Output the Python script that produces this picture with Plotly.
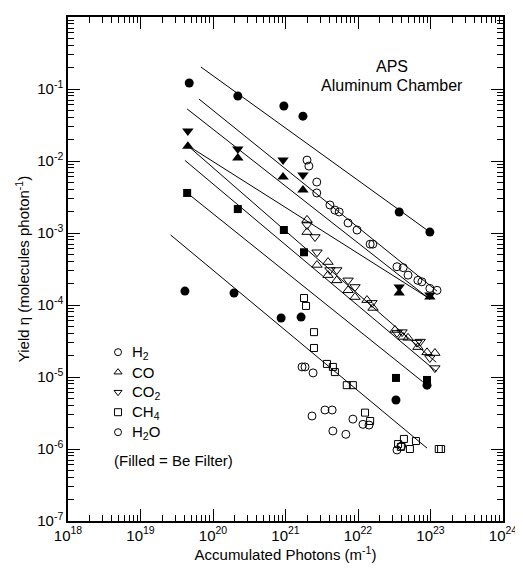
import plotly.graph_objects as go

# ---------------- data ----------------
# Filled symbols (Be filter)
h2_f_x = [4.7e19, 2.2e20, 9.5e20, 1.74e21, 3.7e22, 9.8e22]
h2_f_y = [1.21e-1, 8.0e-2, 5.8e-2, 4.2e-2, 1.96e-3, 1.03e-3]

co_f_x = [4.5e19, 2.2e20, 9.25e20, 1.74e21, 3.7e22, 9.8e22]
co_f_y = [1.6e-2, 1.1e-2, 6.0e-3, 3.96e-3, 1.47e-4, 1.29e-4]

co2_f_x = [4.5e19, 2.2e20, 9.25e20, 1.74e21, 3.7e22, 9.8e22]
co2_f_y = [2.6e-2, 1.47e-2, 1.03e-2, 6.4e-3, 1.78e-4, 1.38e-4]

ch4_f_x = [4.4e19, 2.2e20, 9.5e20, 1.8e21, 3.34e22, 8.95e22]
ch4_f_y = [3.6e-3, 2.15e-3, 1.1e-3, 5.4e-4, 9.7e-6, 9.1e-6]

h2o_f_x = [4.1e19, 1.95e20, 8.7e20, 1.64e21, 3.34e22, 8.95e22]
h2o_f_y = [1.56e-4, 1.47e-4, 6.6e-5, 6.8e-5, 4.8e-6, 7.7e-6]

# Open symbols
h2_o_x = [1.98e21, 2.1e21, 2.7e21, 2.7e21, 4.1e21, 4.8e21, 5.5e21, 7.3e21, 9.7e21,
          1.47e22, 1.6e22, 3.45e22, 4.2e22, 4.9e22, 6.7e22, 7.6e22, 9.8e22, 1.23e23]
h2_o_y = [1.03e-2, 8.5e-3, 5.1e-3, 3.6e-3, 2.45e-3, 2.08e-3, 1.96e-3, 1.38e-3, 1.1e-3,
          7.0e-4, 7.0e-4, 3.4e-4, 3.3e-4, 2.6e-4, 2.2e-4, 2.1e-4, 1.7e-4, 1.6e-4]

co_o_x = [1.98e21, 1.98e21, 2.72e21, 3.86e21, 3.86e21, 5.1e21, 7.3e21, 9.1e21,
          1.33e22, 1.61e22, 3.24e22, 4.18e22, 4.9e22, 6.7e22, 8.95e22, 1.15e23]
co_o_y = [1.52e-3, 1.03e-3, 3.6e-4, 3.95e-4, 2.6e-4, 2.2e-4, 1.6e-4, 1.29e-4,
          1.17e-4, 9.1e-5, 4.5e-5, 3.6e-5, 3.5e-5, 2.6e-5, 2.2e-5, 2.15e-5]

co2_o_x = [1.98e21, 2.55e21, 2.72e21, 4.1e21, 5.1e21, 7.3e21, 9.1e21, 1.56e22,
           3.45e22, 4.05e22, 6.5e22, 7.2e22, 9.8e22, 1.15e23]
co2_o_y = [1.29e-3, 8.8e-4, 5.4e-4, 3.06e-4, 3.06e-4, 2.2e-4, 1.78e-4, 1.07e-4,
           4.1e-5, 4.2e-5, 3.0e-5, 3.1e-5, 1.84e-5, 1.33e-5]

ch4_o_x = [1.8e21, 1.92e21, 2.47e21, 2.47e21, 3.73e21, 4.5e21, 4.8e21, 7.0e21, 8.5e21,
           1.25e22, 1.47e22, 3.57e22, 4.3e22, 3.9e22, 5.2e22, 6.3e22, 1.3e23, 1.4e23]
ch4_o_y = [1.25e-4, 9.7e-5, 4.2e-5, 2.53e-5, 1.52e-5, 1.38e-5, 1.17e-5, 7.7e-6, 7.7e-6,
           3.2e-6, 2.45e-6, 1.17e-6, 1.38e-6, 1.07e-6, 1.0e-6, 1.29e-6, 1.0e-6, 1.0e-6]

h2o_o_x = [1.69e21, 1.86e21, 2.4e21, 2.32e21, 3.5e21, 4.4e21, 4.5e21, 6.8e21, 8.5e21,
           1.17e22, 1.42e22, 3.45e22, 4.0e22]
h2o_o_y = [1.38e-5, 1.38e-5, 1.14e-5, 2.87e-6, 3.48e-6, 3.48e-6, 1.78e-6, 1.6e-6, 2.6e-6,
           2.2e-6, 2.15e-6, 9.7e-7, 1.1e-6]

# Fit lines (start, end) in data units
fit_lines = [
    ([6.8e19, 9.8e22], [2.02e-1, 1.03e-3]),
    ([6.4e19, 1.23e23], [7.26e-2, 1.56e-4]),
    ([4.4e19, 8.95e22], [5.28e-2, 1.29e-4]),
    ([4.4e19, 8.95e22], [1.66e-2, 1.29e-4]),
    ([4.4e19, 1.2e23], [1.66e-2, 1.6e-5]),
    ([4.1e19, 1.2e23], [1.02e-2, 1.2e-5]),
    ([4.4e19, 7.8e22], [3.6e-3, 8.6e-6]),
    ([2.6e19, 8.95e22], [9.4e-4, 1.03e-6]),
]

x_tickvals = [1e18, 1e19, 1e20, 1e21, 1e22, 1e23, 1e24]
x_ticktext = ["10<sup>18</sup>", "10<sup>19</sup>", "10<sup>20</sup>", "10<sup>21</sup>",
              "10<sup>22</sup>", "10<sup>23</sup>", "10<sup>24</sup>"]
y_tickvals = [1e-7, 1e-6, 1e-5, 1e-4, 1e-3, 1e-2, 1e-1, 1e0]
y_ticktext = ["10<sup>-7</sup>", "10<sup>-6</sup>", "10<sup>-5</sup>", "10<sup>-4</sup>",
              "10<sup>-3</sup>", "10<sup>-2</sup>", "10<sup>-1</sup>", "10<sup>-0</sup>"]

legend_names = ["H<sub>2</sub>", "CO", "CO<sub>2</sub>", "CH<sub>4</sub>", "H<sub>2</sub>O"]
legend_symbols = ["circle-open", "triangle-up-open", "triangle-down-open",
                  "square-open", "circle-open"]

# ---------------- figure ----------------
FONT = "Liberation Sans Narrow, Liberation Sans, Arial"
fig = go.Figure()

for xs, ys in fit_lines:
    fig.add_trace(go.Scatter(x=xs, y=ys, mode="lines", line=dict(color="black", width=1),
                             showlegend=False, hoverinfo="skip"))

open_sets = [
    (h2_o_x, h2_o_y, "circle-open", 8),
    (co_o_x, co_o_y, "triangle-up-open", 9),
    (co2_o_x, co2_o_y, "triangle-down-open", 9),
    (ch4_o_x, ch4_o_y, "square-open", 7),
    (h2o_o_x, h2o_o_y, "circle-open", 8),
]
for (xs, ys, sym, sz), name in zip(open_sets, legend_names):
    fig.add_trace(go.Scatter(x=xs, y=ys, mode="markers", name=name, showlegend=False,
                             marker=dict(symbol=sym, size=sz, color="black",
                                         line=dict(color="black", width=1))))

filled_sets = [
    (h2_f_x, h2_f_y, "circle", 9),
    (co_f_x, co_f_y, "triangle-up", 10),
    (co2_f_x, co2_f_y, "triangle-down", 10),
    (ch4_f_x, ch4_f_y, "square", 8),
    (h2o_f_x, h2o_f_y, "circle", 9),
]
for xs, ys, sym, sz in filled_sets:
    fig.add_trace(go.Scatter(x=xs, y=ys, mode="markers", showlegend=False,
                             marker=dict(symbol=sym, size=sz, color="black",
                                         line=dict(width=0))))

# Legend key (drawn on an overlay axis spanning the plot area, 0..1)
leg_x0, leg_y0, leg_dy = 0.115, 0.335, 0.0397
leg_rows = [leg_y0 - i * leg_dy for i in range(len(legend_names))]
fig.add_trace(go.Scatter(x=[leg_x0] * len(leg_rows), y=leg_rows, mode="markers",
                         xaxis="x2", yaxis="y2", showlegend=False, hoverinfo="skip",
                         marker=dict(symbol=legend_symbols, size=7, color="black",
                                     line=dict(color="black", width=1))))

annotations = [
    dict(text="APS", x=0.745, y=0.901, xref="paper", yref="paper",
         xanchor="center", yanchor="middle", showarrow=False,
         font=dict(family=FONT, size=16)),
    dict(text="Aluminum Chamber", x=0.745, y=0.865, xref="paper", yref="paper",
         xanchor="center", yanchor="middle", showarrow=False,
         font=dict(family=FONT, size=16)),
    dict(text="(Filled = Be Filter)", x=0.1, y=0.121, xref="paper", yref="paper",
         xanchor="left", yanchor="middle", showarrow=False,
         font=dict(family=FONT, size=15)),
]
for name, yy in zip(legend_names, leg_rows):
    annotations.append(dict(text=name, x=0.142, y=yy, xref="paper", yref="paper",
                            xanchor="left", yanchor="middle", showarrow=False,
                            font=dict(family=FONT, size=15)))

axis_common = dict(
    type="log", showgrid=False, zeroline=False, showline=True, linecolor="black",
    linewidth=1.5, mirror="ticks", ticks="inside", ticklen=12, tickwidth=1,
    tickcolor="black", tickfont=dict(family=FONT, size=15, color="black"),
    automargin=False,
    minor=dict(ticks="inside", ticklen=6, tickwidth=1, tickcolor="black",
               dtick="D1", showgrid=False),
)

# The page body adds an 8px offset; size the figure so the plot area lands at
# x 68..503 and y 17..521 of the 523x575 window.
fig.update_layout(
    width=515, height=567,
    margin=dict(l=60, r=20, t=9, b=54),
    paper_bgcolor="white", plot_bgcolor="white",
    font=dict(family=FONT, size=15, color="black"),
    showlegend=False,
    xaxis=dict(range=[18, 24], tickmode="array", tickvals=x_tickvals,
               ticktext=x_ticktext,
               title=dict(text="Accumulated Photons (m<sup>-1</sup>)",
                          font=dict(family=FONT, size=15), standoff=2),
               **axis_common),
    yaxis=dict(range=[-7, 0], tickmode="array", tickvals=y_tickvals,
               ticktext=y_ticktext,
               title=dict(text="Yield η (molecules photon<sup>-1</sup>)",
                          font=dict(family=FONT, size=15), standoff=4),
               **axis_common),
    xaxis2=dict(overlaying="x", range=[0, 1], visible=False, fixedrange=True),
    yaxis2=dict(overlaying="y", range=[0, 1], visible=False, fixedrange=True),
    annotations=annotations,
)

fig.write_html("out.html")
